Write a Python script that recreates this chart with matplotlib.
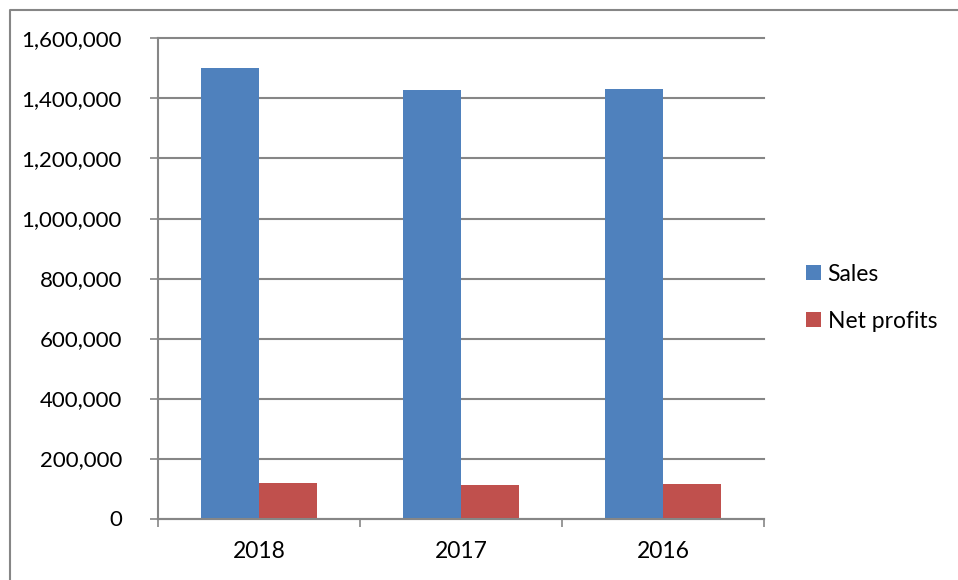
import matplotlib
matplotlib.use('Agg')
import matplotlib.pyplot as plt
import matplotlib.ticker as mticker
import numpy as np

# data
years = ['2018', '2017', '2016']
sales = [1502000, 1428000, 1431000]
net_profits = [117000, 111500, 115000]

blue = '#4F81BD'
red = '#C0504D'
grey = '#868686'

plt.rcParams['font.family'] = ['Lato', 'DejaVu Sans']

fig = plt.figure(figsize=(9.58, 5.80), dpi=100)
ax = fig.add_axes([158 / 958, 61.5 / 580, 606 / 958, 480 / 580])

x = np.arange(len(years))
w = 1 / 3.5  # excel gap width 150%
ax.bar(x - w / 2, sales, width=w, color=blue, label='Sales', zorder=2)
ax.bar(x + w / 2, net_profits, width=w, color=red, label='Net profits', zorder=2)

ax.set_xlim(-0.5, 2.5)
ax.set_ylim(0, 1600000)
ax.yaxis.set_major_locator(mticker.MultipleLocator(200000))
ax.yaxis.set_major_formatter(mticker.FuncFormatter(lambda v, p: f'{int(v):,}'))
ax.set_xticks(x)
ax.set_xticklabels(years)
ax.set_xticks([-0.5, 0.5, 1.5, 2.5], minor=True)

ax.grid(axis='y', color=grey, linewidth=1.5, zorder=0)
for gl in ax.get_ygridlines():
    gl.set_clip_on(False)
for s in ['top', 'right']:
    ax.spines[s].set_visible(False)
for s in ['left', 'bottom']:
    ax.spines[s].set_color(grey)
    ax.spines[s].set_linewidth(1.5)

ax.tick_params(axis='y', length=6, width=1.2, color=grey, labelsize=16, pad=20)
ax.tick_params(axis='x', which='major', length=0, labelsize=16.5, pad=16)
ax.tick_params(axis='x', which='minor', length=6, width=1.2, color=grey)

leg = ax.legend(loc='center left', bbox_to_anchor=(1.035, 0.46), frameon=False,
                fontsize=16.5, handlelength=0.65, handleheight=0.65,
                handletextpad=0.3, labelspacing=1.15)

# outer chart frame
fig.add_artist(plt.Line2D([9.5 / 958, 9.5 / 958, 1], [0, 1 - 9.5 / 580, 1 - 9.5 / 580],
                          color=grey, linewidth=1.5))

fig.savefig('out.png', dpi=100)
